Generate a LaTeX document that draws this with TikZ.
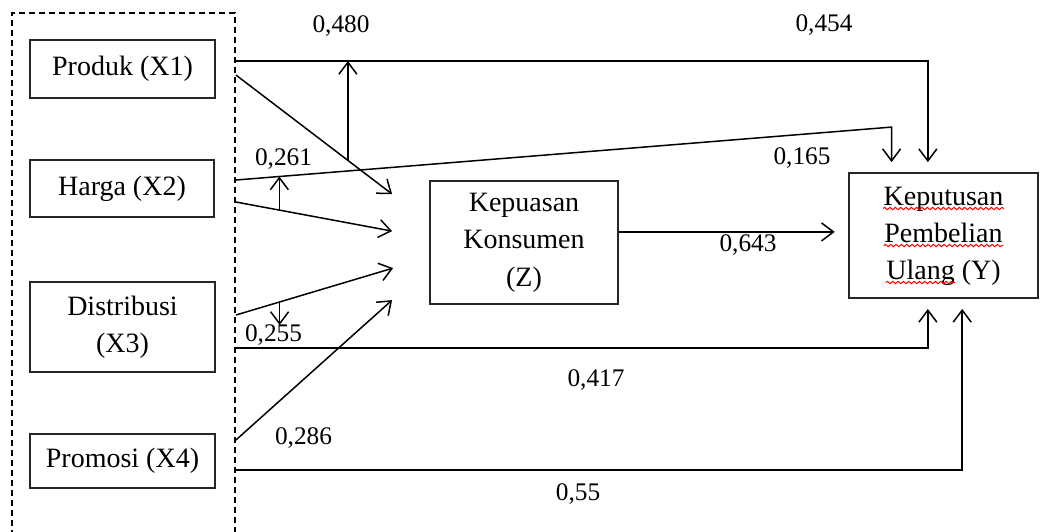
\documentclass[tikz,border=0pt]{standalone}
\usepackage{fontspec}
\setmainfont{Liberation Serif}
\usetikzlibrary{arrows.meta,calc,decorations.pathmorphing}
\begin{document}
\begin{tikzpicture}[x=0.3pt,y=-0.3pt,
  box/.style={draw=black!85,line width=0.55pt,inner sep=0pt,align=center,font=\fontsize{8.4}{11.2}\selectfont},
  ytxt/.style={anchor=base,inner sep=0pt,font=\fontsize{8.4}{11.2}\selectfont},
  lbl/.style={inner sep=0pt,font=\fontsize{7.6}{9}\selectfont},
  arr/.style={line width=0.45pt,-{Straight Barb[length=3.6pt,width=5.4pt]}},
  squig/.style={red,line width=0.3pt,decorate,decoration={snake,amplitude=0.35pt,segment length=1.6pt}}]
\useasboundingbox (0,0) rectangle (1045,531);
\clip (0,0) rectangle (1045,531);
% group frame
\node[draw,dash pattern=on 1.8pt off 1.2pt,line width=0.45pt,inner sep=0pt,minimum width=66.9pt,minimum height=164.1pt] (grp) at (123.5,286.5) {};
% boxes
\node[box,minimum width=55.5pt,minimum height=17.4pt] (X1) at (122.5,69) {Produk (X1)};
\node[box,minimum width=55.2pt,minimum height=17.1pt] (X2) at (122,188.5) {Harga (X2)};
\node[box,minimum width=55.5pt,minimum height=27pt] (X3) at (122.5,327) {Distribusi\\(X3)};
\node[box,minimum width=55.5pt,minimum height=16.2pt] (X4) at (122.5,461) {Promosi (X4)};
\node[box,minimum width=56.4pt,minimum height=36.9pt] (Z) at (524,242.5) {Kepuasan\\Konsumen\\(Z)};
\node[box,minimum width=56.7pt,minimum height=37.5pt] (Y) at (943.5,235.5) {};
\node[ytxt] (y1) at ($(Y.center)+(0,-30.5)$) {Keputusan};
\node[ytxt] (y2) at ($(Y.center)+(0,6.5)$) {Pembelian};
\node[ytxt] (y3) at ($(Y.center)+(0,43.5)$) {Ulang (Y)};
\draw[squig] ($(y1.base west)+(0,3.5)$) -- ($(y1.base east)+(0,3.5)$);
\draw[squig] ($(y2.base west)+(0,3.5)$) -- ($(y2.base east)+(0,3.5)$);
\draw[squig] ($(y3.base west)+(0,3.5)$) -- ($(y3.base west)!0.6!(y3.base east)+(0,3.5)$);
% coordinates
\coordinate (p1a) at ($(X1.east)+(20,-8)$);
\coordinate (p1b) at ($(X1.east)+(20,6)$);
\coordinate (h1a) at ($(X2.east)+(21,-8.5)$);
\coordinate (h1b) at ($(X2.east)+(21,13.5)$);
\coordinate (d1b) at ($(X3.east)+(20,-12)$);
\coordinate (d1a) at ($(X3.east)+(20,21)$);
\coordinate (pr1b) at ($(X4.east)+(20,-21)$);
\coordinate (pr1a) at ($(X4.east)+(20,9)$);
\coordinate (zi1) at ($(Z.north west)+(-37,14)$);
\coordinate (zi2) at ($(Z.north west)+(-37,51)$);
\coordinate (zi3) at ($(Z.north west)+(-36,88)$);
\coordinate (zi4) at ($(Z.north west)+(-37,120)$);
\coordinate (y454) at ($(Y.north west)!0.418!(Y.north east)$);
\coordinate (y165) at ($(Y.north west)!0.228!(Y.north east)$);
\coordinate (y417) at ($(Y.south west)!0.418!(Y.south east)$);
\coordinate (y55) at ($(Y.south west)!0.598!(Y.south east)$);
\coordinate (hc) at ($(y165)+(0,-45)$);
\coordinate (zr) at ($(Z.north east)!0.415!(Z.south east)$);
% connectors
\draw[arr,shorten >=3pt] (p1a) -| (y454);
\draw[arr] (p1b) -- (zi1);
\draw[arr,shorten >=3pt] (h1a) -- (hc) -- (y165);
\draw[arr] (h1b) -- (zi2);
\draw[arr] (d1b) -- (zi3);
\draw[arr,shorten >=3pt] (d1a) -| (y417);
\draw[arr] (pr1b) -- (zi4);
\draw[arr,shorten >=3pt] (pr1a) -| (y55);
\draw[arr,shorten >=4pt] (zr) -- (zr -| Y.west);
% moderation arrows
\coordinate (m480) at ($(p1b)!0.717!(zi1)$);
\draw[arr] (m480) -- (m480 |- p1a);
\coordinate (m261) at ($(h1b)!0.278!(zi2)$);
\coordinate (t261) at ($(h1a)!0.067!(hc)$);
\draw[arr] (m261) -- (m261 |- t261);
\coordinate (m255) at ($(d1b)!0.278!(zi3)$);
\coordinate (t255) at ($(m255)+(0,23)$);
\draw[arr] (m255) -- (t255);
% labels
\node[lbl] (l480) at (341,26) {0,480};
\node[lbl] (l454) at (824,25) {0,454};
\node[lbl] (l261) at (283.5,159) {0,261};
\node[lbl] (l165) at (802,158) {0,165};
\node[lbl] (l643) at (748,245) {0,643};
\node[lbl] (l255) at (273.5,335) {0,255};
\node[lbl] (l417) at (596,380) {0,417};
\node[lbl] (l286) at (303.5,438) {0,286};
\node[lbl] (l55) at (578,494) {0,55};
\end{tikzpicture}
\end{document}
